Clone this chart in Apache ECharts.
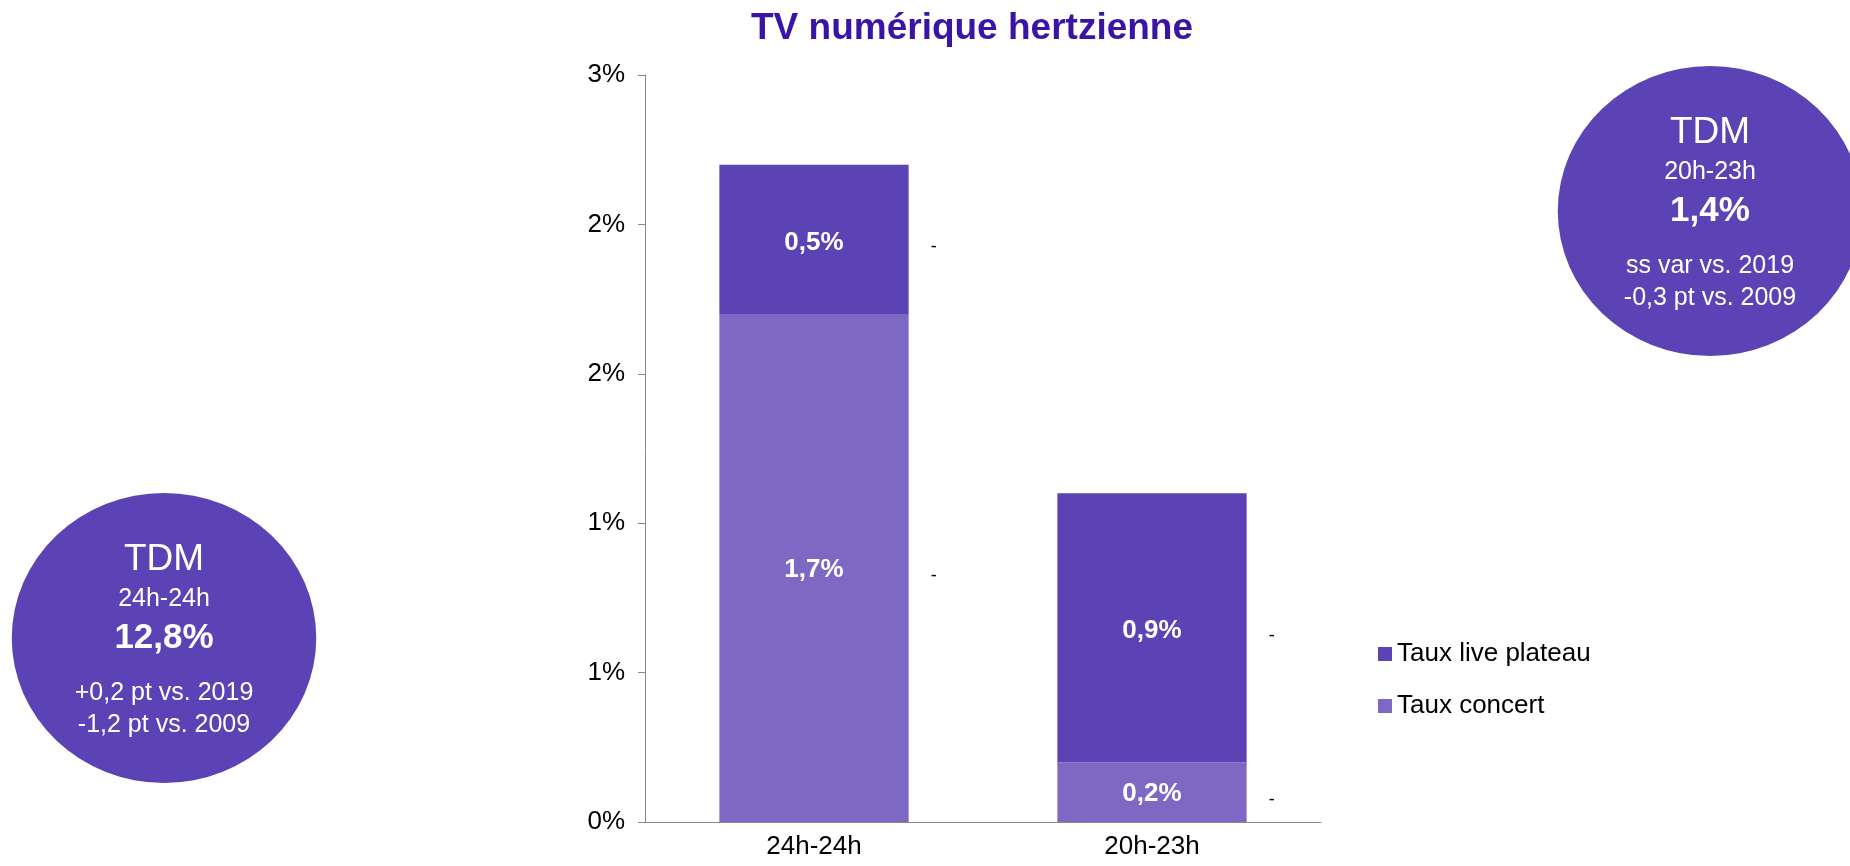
<!DOCTYPE html>
<html>
<head>
<meta charset="utf-8">
<script src="https://cdn.jsdelivr.net/npm/echarts@6/dist/echarts.min.js"></script>
<style>
  html, body { margin: 0; padding: 0; background: #fff; }
  #chart { width: 1850px; height: 866px; }
</style>
</head>
<body>
<div id="chart"></div>
<script>
// données
const categories = ["24h-24h", "20h-23h"];
const tauxConcert = [1.7, 0.2];
const tauxLivePlateau = [0.5, 0.9];
const concertLabels = ["1,7%", "0,2%"];
const plateauLabels = ["0,5%", "0,9%"];
const concertVar = ["-", "-"];
const plateauVar = ["-", "-"];

const circles = [
  { x: 164, y: 638, lines: ["TDM", "24h-24h", "12,8%", "+0,2 pt vs. 2019", "-1,2 pt vs. 2009"] },
  { x: 1710, y: 211, lines: ["TDM", "20h-23h", "1,4%", "ss var vs. 2019", "-0,3 pt vs. 2009"] }
];

const fontFam = "'Liberation Sans', Arial, sans-serif";
const colPlateau = "#5b43b5";
const colConcert = "#7d68c3";

function circleGraphic(c) {
  const offs = [-78, -39, 0, 55, 87];
  const fonts = ["37px", "25px", "bold 35px", "25px", "25px"];
  const children = [{
    type: "circle",
    shape: { cx: 0, cy: 0, r: 145 },
    scaleX: 1.05,
    style: { fill: colPlateau }
  }];
  c.lines.forEach((t, i) => {
    children.push({
      type: "text",
      style: {
        text: t,
        x: 0,
        y: offs[i],
        fill: "#fff",
        font: fonts[i] + " " + fontFam,
        textAlign: "center",
        textVerticalAlign: "middle"
      }
    });
  });
  return { type: "group", x: c.x, y: c.y, children: children };
}

const chart = echarts.init(document.getElementById("chart"));
chart.setOption({
  animation: false,
  textStyle: { fontFamily: fontFam },
  title: {
    text: "TV numérique hertzienne",
    left: 746,
    top: 5,
    textStyle: { fontSize: 37, fontWeight: "bold", color: "#3a14a6", fontFamily: fontFam }
  },
  legend: {
    data: ["Taux live plateau", "Taux concert"],
    orient: "vertical",
    left: 1378,
    top: 641,
    padding: 0,
    icon: "rect",
    itemWidth: 14,
    itemHeight: 14,
    itemGap: 26,
    textStyle: { fontSize: 26, color: "#000", fontFamily: fontFam }
  },
  grid: { left: 645, right: 529, top: 75, bottom: 44, containLabel: false },
  xAxis: {
    type: "category",
    data: categories,
    axisLine: { lineStyle: { color: "#888" } },
    axisTick: { length: 8, lineStyle: { color: "#888" } },
    axisLabel: { fontSize: 26, color: "#000", margin: 12, fontFamily: fontFam }
  },
  yAxis: {
    type: "value",
    min: 0,
    max: 2.5,
    interval: 0.5,
    splitLine: { show: false },
    axisLine: { show: true, lineStyle: { color: "#888" } },
    axisTick: { show: true, length: 7, lineStyle: { color: "#888" } },
    axisLabel: {
      fontSize: 26, color: "#000", margin: 20, fontFamily: fontFam,
      formatter: v => Math.round(v) + "%"
    }
  },
  series: [
    {
      name: "Taux concert",
      type: "bar",
      stack: "a",
      barWidth: "56%",
      barGap: "-100%",
      data: tauxConcert,
      itemStyle: { color: colConcert },
      label: {
        show: true, position: "inside", offset: [0, 2], color: "#fff", fontSize: 26, fontWeight: "bold",
        formatter: p => concertLabels[p.dataIndex]
      }
    },
    {
      name: "Taux live plateau",
      type: "bar",
      stack: "a",
      barWidth: "56%",
      barGap: "-100%",
      data: tauxLivePlateau,
      itemStyle: { color: colPlateau },
      label: {
        show: true, position: "inside", offset: [0, 3], color: "#fff", fontSize: 26, fontWeight: "bold",
        formatter: p => plateauLabels[p.dataIndex]
      }
    },
    {
      name: "var concert",
      type: "bar",
      stack: "b",
      barWidth: "56%",
      barGap: "-100%",
      data: tauxConcert,
      silent: true,
      itemStyle: { color: "rgba(0,0,0,0)" },
      label: {
        show: true, position: "right", distance: 22, offset: [0, 8], color: "#000", fontSize: 18,
        formatter: p => concertVar[p.dataIndex]
      }
    },
    {
      name: "var plateau",
      type: "bar",
      stack: "b",
      barWidth: "56%",
      barGap: "-100%",
      data: tauxLivePlateau,
      silent: true,
      itemStyle: { color: "rgba(0,0,0,0)" },
      label: {
        show: true, position: "right", distance: 22, offset: [0, 8], color: "#000", fontSize: 18,
        formatter: p => plateauVar[p.dataIndex]
      }
    }
  ],
  graphic: circles.map(circleGraphic)
});
</script>
</body>
</html>
